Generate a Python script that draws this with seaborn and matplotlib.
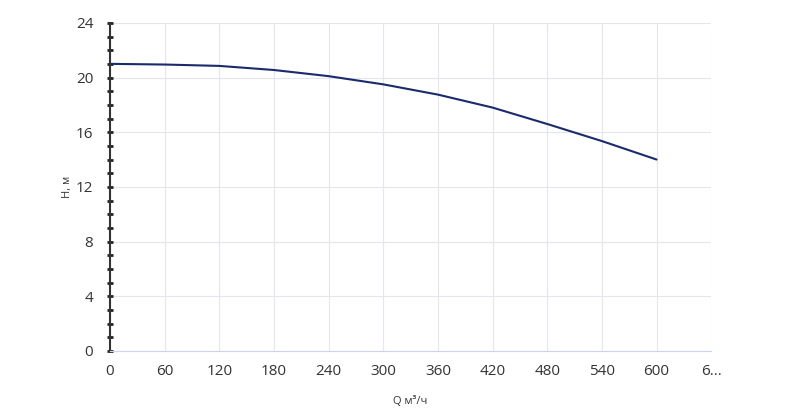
import matplotlib
matplotlib.use("Agg")
import matplotlib.pyplot as plt
import seaborn as sns
import numpy as np
from matplotlib.ticker import MultipleLocator

q = [0, 60, 120, 180, 240, 300, 360, 420, 480, 540, 600]
h = [21.0, 20.95, 20.85, 20.55, 20.1, 19.5, 18.75, 17.8, 16.6, 15.35, 14.0]
xticks = [0, 60, 120, 180, 240, 300, 360, 420, 480, 540, 600, 660]
xlabels = ["0", "60", "120", "180", "240", "300", "360", "420", "480", "540", "600", "6..."]
yticks = [0, 4, 8, 12, 16, 20, 24]

sns.set_style("white")
plt.rcParams['font.family'] = ['Open Sans', 'DejaVu Sans']
fig = plt.figure(figsize=(8, 4.08), dpi=100)
ax = fig.add_axes([0.1375, 0.14, 0.889 - 0.1375, 0.944 - 0.14])
sns.lineplot(x=q, y=h, ax=ax, color="#1a2a6c", linewidth=1.5)
ax.set_xlim(0, 660)
ax.set_ylim(0, 24)
ax.set_xticks(xticks)
ax.set_xticklabels(xlabels)
ax.set_yticks(yticks)
ax.grid(True, which="major", color="#e3e6ee", linewidth=0.8)
for s in ["top", "right"]:
    ax.spines[s].set_visible(False)
ax.spines["bottom"].set_color("#ccd6eb")
ax.spines["left"].set_color("#333333")
ax.spines["left"].set_linewidth(1.5)
ax.yaxis.set_minor_locator(MultipleLocator(1))
ax.tick_params(axis="y", which="minor", left=True, length=4, direction="inout", color="#222222", width=2)
ax.tick_params(axis="y", which="major", left=True, length=4, direction="inout", color="#222222", width=2,
               pad=10, labelsize=11, labelcolor="#333333")
ax.tick_params(axis="x", length=6, color="#ccd6eb", labelsize=11, labelcolor="#333333")
ax.set_xlabel("Q м³/ч", fontsize=8, color="#333333", labelpad=12)
ax.set_ylabel("H, м", fontsize=8, color="#333333", labelpad=2)
fig.savefig("out.png", dpi=100)
